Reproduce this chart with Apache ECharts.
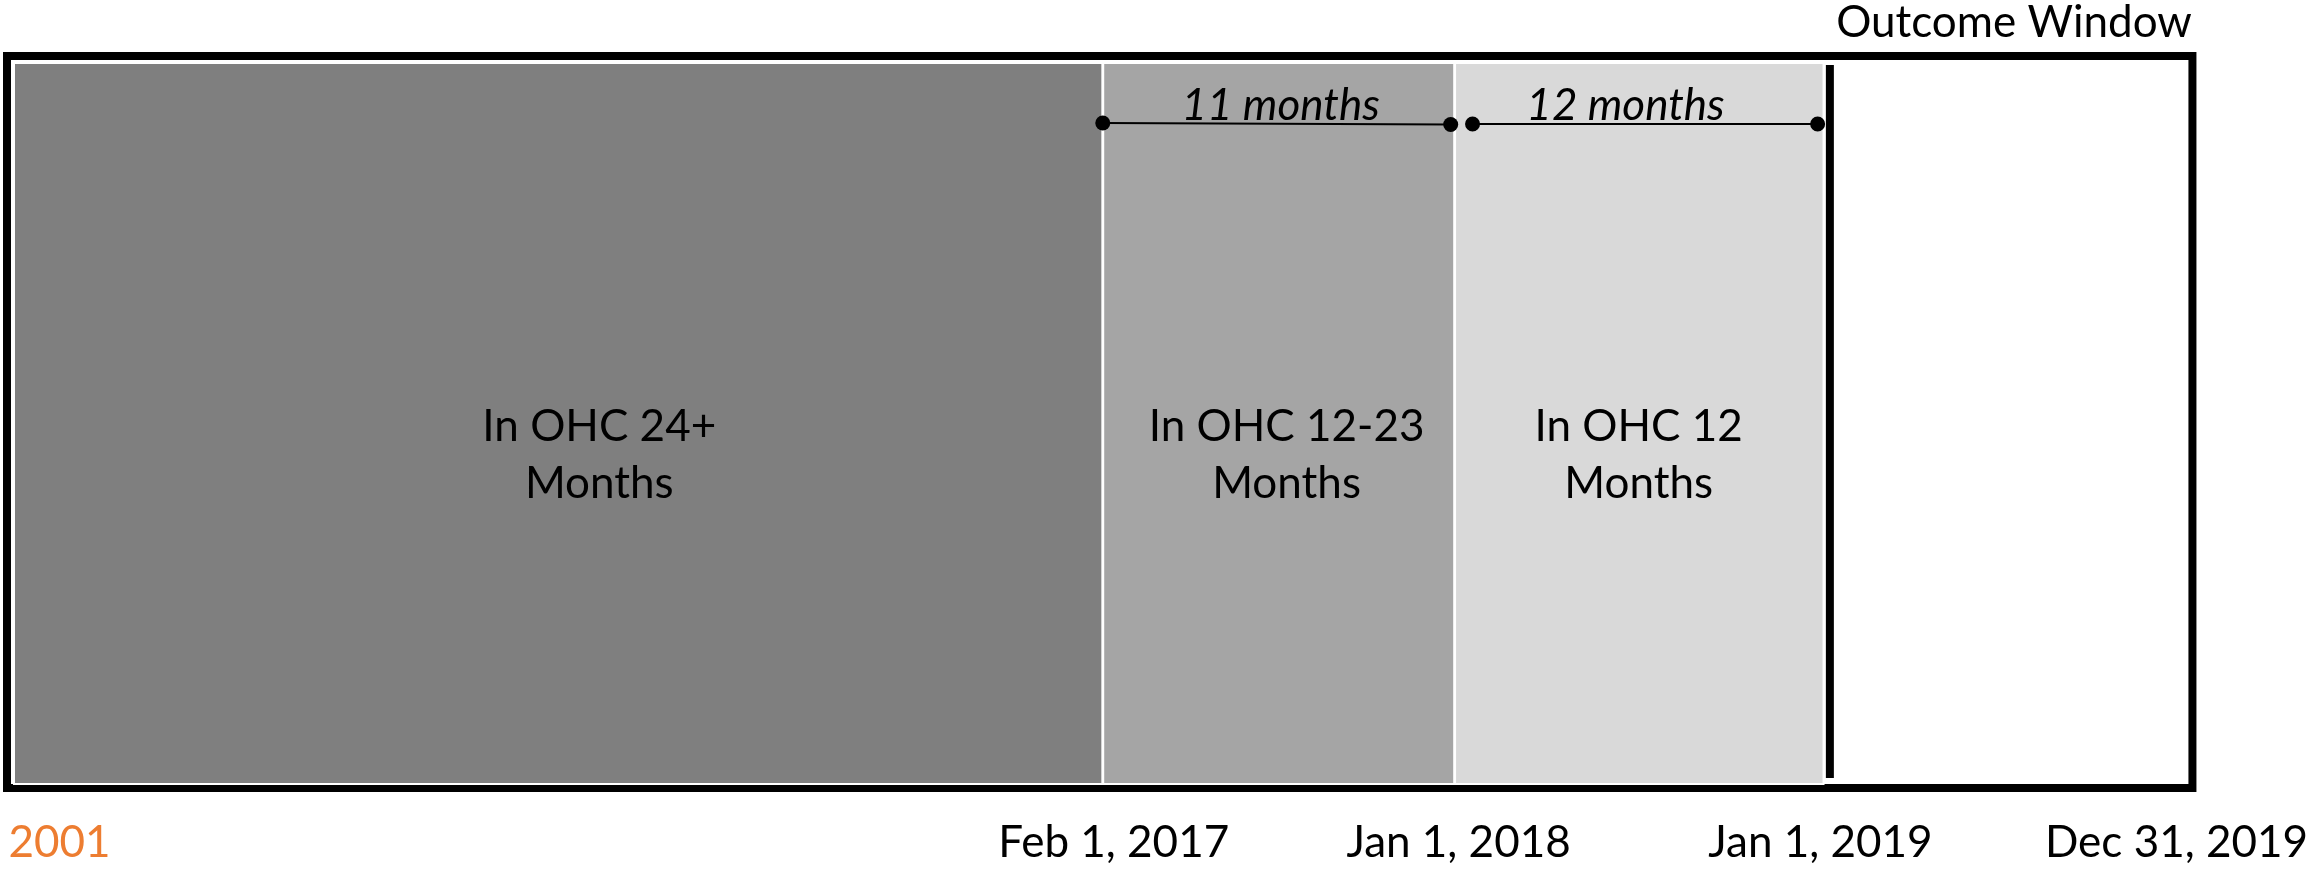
<!DOCTYPE html>
<html>
<head>
<meta charset="utf-8">
<script src="https://cdn.jsdelivr.net/npm/echarts@6.0.0/dist/echarts.min.js"></script>
<style>
  html, body { margin: 0; padding: 0; background: #fff; }
  #chart { width: 2311px; height: 870px; }
</style>
</head>
<body>
<div id="chart"></div>
<script>
// timeline positions use a 0-100 scale across the frame, heights a 0-1 scale
const segLabels = ['In OHC 24+\nMonths', 'In OHC 12-23\nMonths', 'In OHC 12\nMonths']
const segStart = [0.32, 50.16, 66.26]
const segEnd = [50.12, 66.22, 83.12]
const segLabelX = [27.1, 58.55, 74.66]

const spanLabels = ['11 months', '12 months']
const spanStart = [50.14, 67.06]
const spanEnd = [66.06, 82.85]
const spanStartY = [0.9085, 0.9071]
const spanEndY = [0.9064, 0.9071]
const spanLabelX = [58.28, 74.06]

const cutoffX = 83.41

const tickLabels = ['2001', 'Feb 1, 2017', 'Jan 1, 2018', 'Jan 1, 2019', 'Dec 31, 2019']
const tickPos = [2.4, 50.64, 66.42, 82.98, 99.27]

const segColors = ['#7f7f7f', '#a5a5a5', '#d9d9d9']
const FONT = 'Lato, "Open Sans", sans-serif'
const FS = 44

const chart = echarts.init(document.getElementById('chart'))

function renderSegment(params, api) {
    const i = params.dataIndex
    const p0 = api.coord([api.value(0), 0.9904])
    const p1 = api.coord([api.value(1), 0.0055])
    const pc = api.coord([segLabelX[i], 0.455])
    return {
        type: 'group',
        children: [
            {
                type: 'rect',
                shape: { x: p0[0], y: p0[1], width: p1[0] - p0[0], height: p1[1] - p0[1] },
                style: { fill: segColors[i], stroke: '#fff', lineWidth: 2 }
            },
            {
                type: 'text',
                x: pc[0],
                y: pc[1],
                style: {
                    text: segLabels[i],
                    fill: '#000',
                    fontSize: FS,
                    fontFamily: FONT,
                    align: 'center',
                    verticalAlign: 'middle',
                    lineHeight: 57
                }
            }
        ]
    }
}

function renderSpan(params, api) {
    const i = params.dataIndex
    const a = api.coord([api.value(0), api.value(1)])
    const b = api.coord([api.value(2), api.value(3)])
    const t = api.coord([spanLabelX[i], 0.932])
    return {
        type: 'group',
        children: [
            { type: 'line', shape: { x1: a[0], y1: a[1], x2: b[0], y2: b[1] }, style: { stroke: '#000', lineWidth: 2 } },
            { type: 'circle', shape: { cx: a[0], cy: a[1], r: 7.5 }, style: { fill: '#000' } },
            { type: 'circle', shape: { cx: b[0], cy: b[1], r: 7.5 }, style: { fill: '#000' } },
            {
                type: 'text',
                x: t[0],
                y: t[1],
                style: {
                    text: spanLabels[i],
                    fill: '#000',
                    fontSize: FS,
                    fontStyle: 'italic',
                    fontFamily: FONT,
                    align: 'center',
                    verticalAlign: 'middle'
                }
            }
        ]
    }
}

chart.setOption({
    animation: false,
    title: {
        text: 'Outcome Window',
        left: 2014,
        top: 1,
        padding: 0,
        textAlign: 'center',
        textStyle: { fontSize: FS, fontWeight: 'normal', fontFamily: FONT, color: '#000' }
    },
    grid: {
        left: 7,
        right: 118,
        top: 56,
        bottom: 82,
        show: true,
        borderColor: '#000',
        borderWidth: 8,
        backgroundColor: 'transparent'
    },
    xAxis: {
        type: 'value',
        min: 0,
        max: 100,
        axisLine: { show: false },
        axisTick: { show: false },
        splitLine: { show: false },
        axisLabel: {
            customValues: tickPos,
            margin: 33,
            formatter: (value) => {
                const idx = tickPos.indexOf(value)
                return idx === 0 ? '{o|' + tickLabels[idx] + '}' : '{k|' + tickLabels[idx] + '}'
            },
            rich: {
                o: { color: '#ed7d31', fontSize: FS, fontFamily: FONT },
                k: { color: '#000', fontSize: FS, fontFamily: FONT }
            }
        }
    },
    yAxis: {
        type: 'value',
        min: 0,
        max: 1,
        show: false
    },
    series: [
        {
            type: 'custom',
            renderItem: renderSegment,
            data: segStart.map((s, i) => [s, segEnd[i]]),
            silent: true
        },
        {
            type: 'line',
            data: [[cutoffX, 0.0137], [cutoffX, 0.9877]],
            symbol: 'none',
            lineStyle: { color: '#000', width: 8 },
            silent: true,
            z: 3
        },
        {
            type: 'custom',
            renderItem: renderSpan,
            data: spanStart.map((s, i) => [s, spanStartY[i], spanEnd[i], spanEndY[i]]),
            silent: true,
            z: 4
        }
    ]
})
</script>
</body>
</html>
